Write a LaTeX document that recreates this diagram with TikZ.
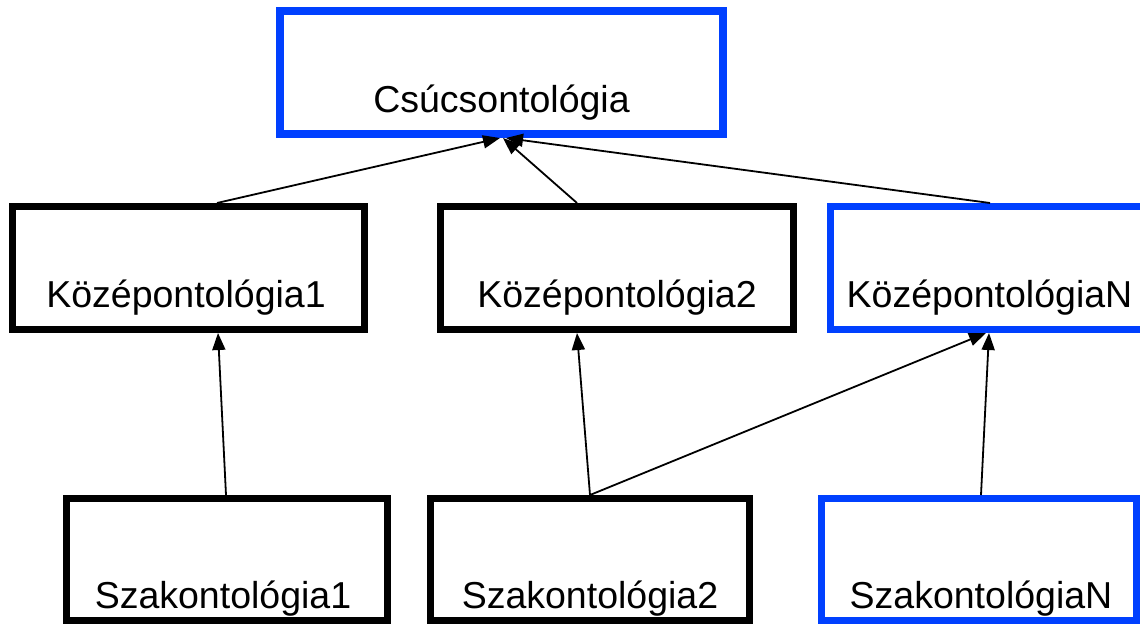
\documentclass[tikz,border=0pt]{standalone}
\usepackage{fontspec}
\setmainfont{Liberation Sans}
\usetikzlibrary{arrows.meta}
\definecolor{boxblue}{RGB}{0,64,255}
\begin{document}
\begin{tikzpicture}[x=1pt,y=-1pt,
  box/.style={draw, rectangle, inner sep=0pt, line width=7pt, minimum height=123pt},
  bluebox/.style={box, draw=boxblue},
  lbl/.style={anchor=base, inner sep=0pt, font=\fontsize{37.5}{45}\selectfont},
  arr/.style={line width=1.8pt, -{Triangle[length=17pt,width=13pt]}}]
  \clip (0,0) rectangle (1140,624);
  \fill[white] (0,0) rectangle (1140,624);

  % top level
  \node[bluebox, line width=8pt, minimum width=443pt] (top) at (501.5,72.5) {};
  \node[lbl] (toplbl) at (501.5,112) {Csúcsontológia};

  % middle level
  \node[box, minimum width=352pt] (k1) at (188.5,268) {};
  \node[box, minimum width=353pt] (k2) at (617,268) {};
  \node[bluebox, minimum width=318pt] (kN) at (989.5,268) {};
  \node[lbl] (k1lbl) at (186,307) {Középontológia1};
  \node[lbl] (k2lbl) at (617,307) {Középontológia2};
  \node[lbl] (kNlbl) at (989.5,307) {KözépontológiaN};

  % bottom level
  \node[box, minimum width=321pt, minimum height=122pt] (s1) at (227,559.5) {};
  \node[box, minimum width=319pt, minimum height=122pt] (s2) at (590,559.5) {};
  \node[bluebox, minimum width=315pt, minimum height=122pt] (sN) at (979,559.5) {};
  \node[lbl] (s1lbl) at (223,608) {Szakontológia1};
  \node[lbl] (s2lbl) at (590,608) {Szakontológia2};
  \node[lbl] (sNlbl) at (981,608) {SzakontológiaN};

  % connectors
  \draw[arr] ([xshift=28.5pt]k1.north) -- ([xshift=-1.5pt]top.south);
  \draw[arr] ([xshift=-40pt]k2.north) -- ([xshift=1.5pt]top.south);
  \draw[arr] ([xshift=0.5pt]kN.north) -- ([xshift=4.5pt]top.south);
  \draw[arr] ([xshift=-1pt]s1.north) -- ([xshift=29.5pt]k1.south);
  \draw[arr] (s2.north) -- ([xshift=-40pt]k2.south);
  \draw[arr] (s2.north) -- ([xshift=-3.5pt]kN.south);
  \draw[arr] ([xshift=2pt]sN.north) -- ([xshift=-0.5pt]kN.south);
\end{tikzpicture}
\end{document}
